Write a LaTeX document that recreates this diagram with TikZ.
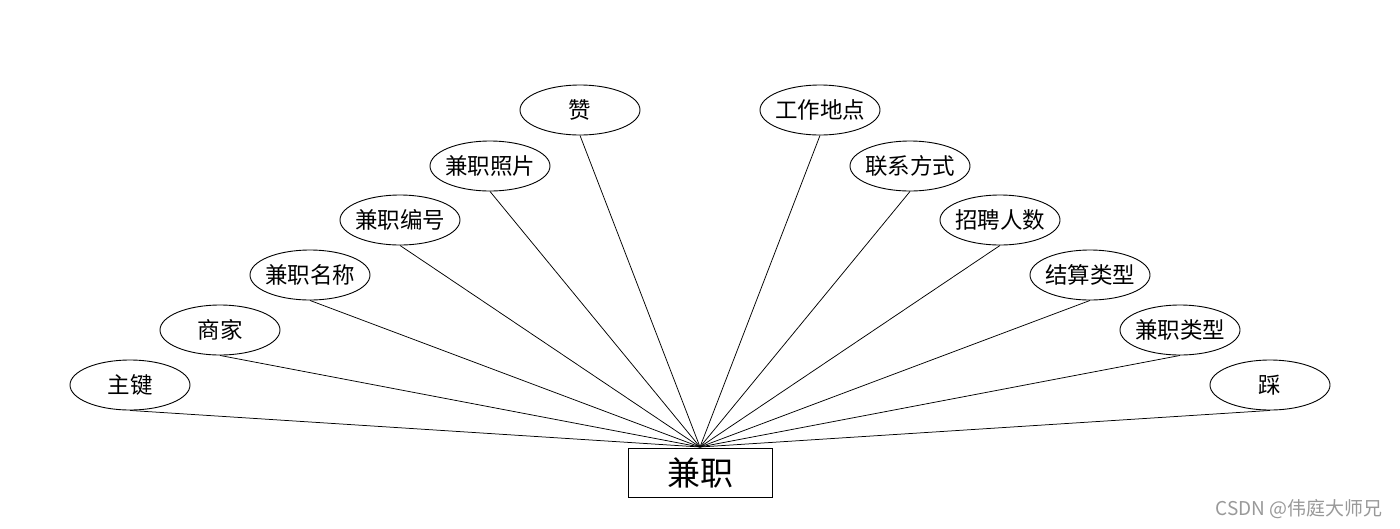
\documentclass[tikz,border=0pt]{standalone}
\usepackage{fontspec}
\setmainfont{Noto Sans CJK SC}
\usetikzlibrary{shapes.geometric}
\newcommand\zb[1]{\makebox[0pt]{#1}}
\begin{document}
\begin{tikzpicture}[x=1pt,y=-1pt,
  attr/.style={ellipse,draw,line width=0.9pt,minimum width=120pt,minimum height=50pt,inner sep=0pt,font=\fontsize{22.5}{24}\selectfont},
  ent/.style={rectangle,draw,line width=0.9pt,minimum width=144pt,minimum height=49pt,inner sep=0pt,font=\fontsize{33}{36}\selectfont},
  link/.style={line width=0.75pt}]
\useasboundingbox (0,0) rectangle (1400,528);
\node[ent] (e) at (700,472.5) {兼职};
\coordinate (apex) at (700,447);
\node[attr] (a1) at (130,385) {\zb{主键}};
\node[attr] (a2) at (220,330) {\zb{商家}};
\node[attr] (a3) at (310,275) {\zb{兼职名称}};
\node[attr] (a4) at (400,220) {\zb{兼职编号}};
\node[attr] (a5) at (490,166) {\zb{兼职照片}};
\node[attr] (a6) at (580,110) {\zb{赞}};
\node[attr] (b1) at (820,110) {\zb{工作地点}};
\node[attr] (b2) at (910,166) {\zb{联系方式}};
\node[attr] (b3) at (1000,220) {\zb{招聘人数}};
\node[attr] (b4) at (1090,275) {\zb{结算类型}};
\node[attr] (b5) at (1180,330) {\zb{兼职类型}};
\node[attr] (b6) at (1270,385) {\zb{踩}};
\foreach \n in {a1,a2,a3,a4,a5,a6,b1,b2,b3,b4,b5,b6}
  \draw[link] (\n.south) -- (apex);
\node[font=\fontsize{19}{21}\selectfont,text=black!40,anchor=east] (wm) at (1386,509) {CSDN @伟庭大师兄};
\end{tikzpicture}
\end{document}
